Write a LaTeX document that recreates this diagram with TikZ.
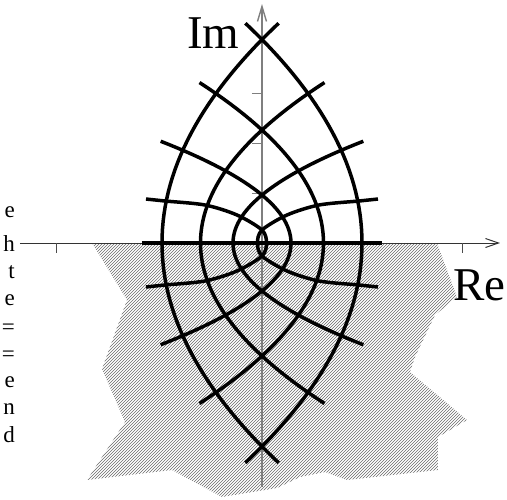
\documentclass[tikz,border=0pt]{standalone}
\usepackage{fontspec}
\setmainfont{Liberation Serif}
\usetikzlibrary{arrows.meta,patterns}
\definecolor{AxisGray}{HTML}{7F7F7F}
\definecolor{HatchGray}{HTML}{6A6A6A}
\tikzset{
  curveline/.style={line width=3.5pt, draw=black},
  reline/.style={line width=1pt, draw=black!80, -{Straight Barb[length=13pt,width=9pt]}},
  imline/.style={line width=1.4pt, draw=AxisGray, -{Straight Barb[length=15pt,width=9pt]}},
  tickmark/.style={line width=1pt, draw=black!70},
  hatchfill/.style={pattern=north east lines, pattern color=HatchGray},
  bigtext/.style={font=\fontsize{47}{56}\selectfont, inner sep=0pt, anchor=base west},
  edgetext/.style={font=\fontsize{23}{28}\selectfont, inner sep=0pt, anchor=base east},
}

\begin{document}
\begin{tikzpicture}[x=1pt,y=1pt]
\useasboundingbox (-262,-256) rectangle (245,243);

% shaded lower half plane
\fill[hatchfill] (-170,0) -- (-135,-57) -- (-160,-126) -- (-137,-179) -- (-175,-237)
  -- (-90,-227) -- (-40,-254) -- (15,-245) -- (38,-234) -- (63,-229) -- (85,-237)
  -- (176,-227) -- (176,-194) -- (205,-177) -- (148,-129) -- (153,-114)
  -- (173,-72) -- (195,-54) -- (175,0) -- cycle;

% axes
\coordinate (reS) at (-242,0);
\coordinate (reE) at (238,0);
\coordinate (imS) at (0,-244);
\coordinate (imE) at (0,239);
\draw[reline] (reS) -- (reE);
\draw[imline] (imS) -- (imE);
\foreach \u in {-205,201}
  \draw[tickmark] (\u,0) -- (\u,-10);
\foreach \v in {50,100,150}
  \draw[tickmark, draw=AxisGray] (-10,\v) -- (0,\v);

% image curves, mirrored left/right
\foreach \s in {1,-1}{
  \begin{scope}[xscale=\s]
    \foreach \a/\h/\T in {100/203.5/1.08, 61.5/113/1.42, 29/48/2.12}
      \draw[curveline] plot[domain=-\T:\T, samples=61, variable=\t]
        ({\a*(1-(\t)*(\t))},{\h*(\t)});
    \draw[curveline] plot[smooth] coordinates {(-116,-44) (-97,-42) (-57,-38)
      (-25,-28) (0,-13) (4.5,0) (0,13) (-25,28) (-57,38) (-97,42) (-116,44)};
  \end{scope}
}
\draw[curveline] (-120,0) -- (120,0);

% labels
\node[bigtext] (imlabel) at (-75,195) {Im};
\node[bigtext] (relabel) at (191,-57) {Re};
\foreach \ch/\yy [count=\i] in {e/26,h/-8,t/-35,e/-62,=/-91,=/-118,e/-144,n/-171,d/-199}
  \node[edgetext] (frag\i) at (-247,\yy) {\ch};
\end{tikzpicture}
\end{document}
